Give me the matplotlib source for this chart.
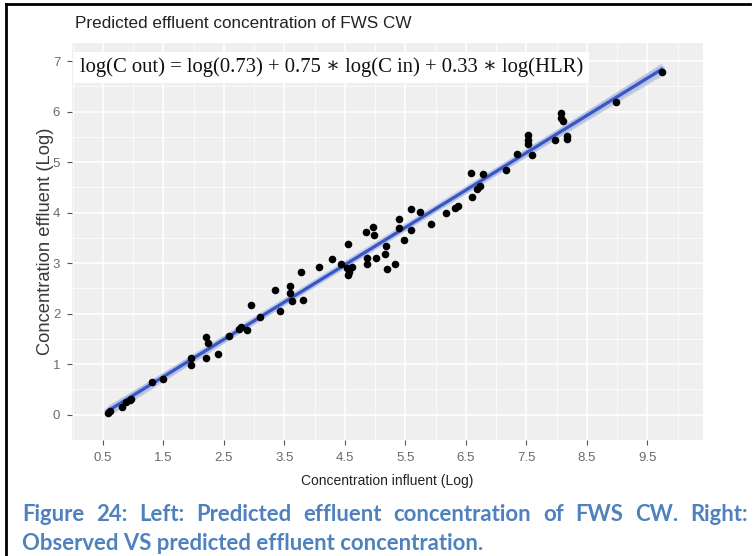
import numpy as np
import matplotlib
matplotlib.use('Agg')
import matplotlib.pyplot as plt
from matplotlib.lines import Line2D

# influent vs effluent concentration (log)
c_in = [0.58, 0.62, 0.81, 0.89, 0.95, 0.97, 1.32, 1.49, 1.96, 1.96,
        2.21, 2.23, 2.21, 2.40, 2.58, 2.75, 2.79, 2.89, 2.95, 3.10,
        3.43, 3.34, 3.60, 3.60, 3.62, 3.81, 3.77, 4.08, 4.29, 4.43,
        4.55, 4.53, 4.57, 4.61, 4.55, 4.86, 4.86, 5.02, 4.85, 4.96,
        4.98, 5.16, 5.18, 5.20, 5.33, 5.39, 5.39, 5.48, 5.59, 5.60,
        5.75, 5.93, 6.18, 6.32, 6.37, 6.60, 6.68, 6.58, 6.74, 6.78,
        7.16, 7.34, 7.53, 7.53, 7.53, 7.60, 7.97, 8.08, 8.08, 8.10,
        8.17, 8.17, 8.99, 9.74]
c_out = [0.04, 0.08, 0.16, 0.25, 0.29, 0.31, 0.64, 0.70, 1.12, 0.99,
         1.53, 1.42, 1.12, 1.21, 1.55, 1.69, 1.73, 1.67, 2.18, 1.93,
         2.06, 2.46, 2.55, 2.42, 2.25, 2.27, 2.82, 2.93, 3.08, 2.98,
         3.39, 2.90, 2.82, 2.93, 2.77, 3.11, 2.98, 3.11, 3.62, 3.71,
         3.56, 3.19, 3.34, 2.88, 2.98, 3.88, 3.69, 3.45, 4.08, 3.66,
         4.01, 3.77, 4.00, 4.10, 4.14, 4.31, 4.46, 4.79, 4.53, 4.76,
         4.84, 5.17, 5.54, 5.43, 5.37, 5.15, 5.43, 5.97, 5.87, 5.82,
         5.52, 5.45, 6.20, 6.79]

x_ticks = [0.5, 1.5, 2.5, 3.5, 4.5, 5.5, 6.5, 7.5, 8.5, 9.5]
y_ticks = [0, 1, 2, 3, 4, 5, 6, 7]

title = 'Predicted effluent concentration of FWS CW'
equation = 'log(C out) = log(0.73) + 0.75 \u2217 log(C in) + 0.33 \u2217 log(HLR)'
caption1 = ['Figure', '24:', 'Left:', 'Predicted', 'effluent', 'concentration',
            'of', 'FWS', 'CW.', 'Right:']
caption2 = 'Observed VS predicted effluent concentration.'

sans = ['Liberation Sans', 'DejaVu Sans']
serif = ['Liberation Serif', 'DejaVu Serif']

x = np.array(c_in)
y = np.array(c_out)

fig = plt.figure(figsize=(7.55, 5.56), dpi=100)
ax = fig.add_axes([72 / 755, 1 - 440 / 556, 631 / 755, 397 / 556])
ax.set_facecolor('#efefef')

# regression line with confidence band (like geom_smooth(method='lm'))
b, a = np.polyfit(x, y, 1)
xs = np.linspace(x.min(), x.max(), 100)
ys = a + b * xs
resid = y - (a + b * x)
s = np.sqrt(np.sum(resid ** 2) / (len(x) - 2))
se = s * np.sqrt(1 / len(x) + (xs - x.mean()) ** 2 / np.sum((x - x.mean()) ** 2))
ax.fill_between(xs, ys - 1.99 * se, ys + 1.99 * se, color='#b4bdd8', alpha=0.7, lw=0, zorder=2)
ax.plot(xs, ys, color='#a8b8ee', lw=5, alpha=0.6, zorder=3, solid_capstyle='round')
ax.plot(xs, ys, color='#3857c2', lw=2.3, zorder=4)

ax.scatter(x, y, s=30, color='black', zorder=5, linewidths=0)

ax.set_xlim(-0.01, 10.42)
ax.set_ylim(-0.33, 7.36)
ax.set_xticks(x_ticks)
ax.set_xticklabels([str(t) for t in x_ticks])
ax.set_yticks(y_ticks)
ax.set_xticks([0, 1, 2, 3, 4, 5, 6, 7, 8, 9, 10], minor=True)
ax.set_yticks([-0.5, 0.5, 1.5, 2.5, 3.5, 4.5, 5.5, 6.5], minor=True)
ax.grid(which='major', color='white', lw=1.1)
ax.grid(which='minor', color='white', lw=0.5)
ax.set_axisbelow(True)
for sp in ax.spines.values():
    sp.set_visible(False)
ax.tick_params(which='major', length=3.5, width=0.8, color='#555555',
               labelcolor='#6a6a6a', labelsize=9.5, pad=5)
ax.tick_params(which='minor', length=0)
for lab in ax.get_xticklabels() + ax.get_yticklabels():
    lab.set_family(sans)

ax.set_xlabel('Concentration influent (Log)', family=sans, fontsize=10,
              color='#222222', labelpad=7)
ax.set_ylabel('Concentration effluent (Log)', family=sans, fontsize=13.2,
              color='#3a3a3a', labelpad=-1)

fig.text(75 / 755, 1 - 24 / 556, title, family=sans, fontsize=12.3,
         color='#222222', va='center', ha='left')

ax.text(0.12, 6.88, equation, family=serif, fontsize=14.9,
        color='#111111', va='center', ha='left', zorder=6,
        bbox=dict(facecolor='white', edgecolor='none', pad=4))

# caption below the chart, first line justified between the margins
blue = '#4f81bd'
cap_size = 15.9
left_px, right_px = 22, 748
renderer = fig.canvas.get_renderer()
words = [fig.text(0, 1 - 521 / 556, w, family='Lato', weight='bold',
                  fontsize=cap_size, color=blue, ha='left', va='baseline')
         for w in caption1]
widths = [t.get_window_extent(renderer).width for t in words]
gap = (right_px - left_px - sum(widths)) / (len(words) - 1)
pos = left_px
for t, w in zip(words, widths):
    t.set_x(pos / 755)
    pos += w + gap
fig.text(left_px / 755, 1 - 550 / 556, caption2, family='Lato', weight='bold',
         fontsize=cap_size, color=blue, ha='left', va='baseline')

# frame lines of the pasted picture
fig.add_artist(Line2D([6 / 755, 6 / 755], [0, 1 - 4 / 556], color='black', lw=2))
fig.add_artist(Line2D([6 / 755, 750 / 755], [1 - 4 / 556, 1 - 4 / 556], color='black', lw=2))

fig.savefig('out.png', dpi=100)
